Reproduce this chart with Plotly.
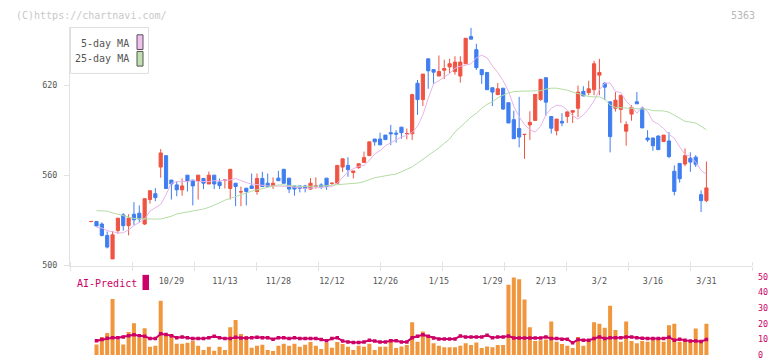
import plotly.graph_objects as go

# ---------------- data ----------------
opens = [529.0, 529.1, 527.4, 519.8, 504.1, 523.0, 533.5, 526.3, 533.9, 534.6,
         527.4, 543.7, 547.6, 565.4, 573.0, 556.7, 553.5, 550.2, 560.0, 556.7,
         556.1, 557.8, 554.1, 560.0, 555.4, 556.6, 551.1, 554.6, 548.8, 551.3,
         552.8, 549.1, 557.8, 554.6, 552.8, 558.0, 563.9, 558.0, 552.8, 552.8,
         552.8, 550.7, 552.7, 553.5, 558.0, 554.5, 554.6, 565.4, 566.5, 561.7,
         565.0, 568.5, 573.0, 584.1, 584.1, 586.7, 588.3, 588.0, 592.0, 587.7,
         587.6, 621.3, 610.4, 637.6, 630.4, 626.1, 630.0, 632.2, 629.0, 626.1,
         634.3, 652.4, 643.7, 630.4, 628.5, 618.3, 613.7, 618.0, 608.3, 597.0,
         591.1, 587.1, 593.5, 596.5, 610.4, 625.0, 599.1, 589.6, 595.9, 599.1,
         602.0, 604.6, 615.9, 615.0, 617.0, 626.7, 621.3, 608.9, 604.6, 603.9,
         589.3, 600.7, 608.9, 604.6, 584.8, 584.8, 586.1, 582.4, 582.8, 562.6,
         567.8, 567.4, 571.3, 572.0, 547.0, 543.0]
highs = [529.1, 529.1, 528.5, 522.4, 522.8, 531.3, 534.6, 533.9, 542.0, 539.8,
         544.3, 549.6, 551.3, 577.4, 573.0, 556.7, 555.7, 557.8, 560.0, 556.7,
         560.0, 557.8, 562.4, 560.0, 557.8, 556.7, 563.9, 554.6, 552.4, 551.3,
         561.1, 561.1, 562.2, 561.1, 558.5, 562.8, 563.9, 558.0, 552.8, 552.8,
         553.5, 558.0, 558.5, 554.6, 558.0, 555.0, 566.5, 570.9, 572.0, 562.8,
         567.6, 575.7, 582.2, 584.1, 588.3, 586.7, 593.5, 590.0, 592.0, 591.1,
         614.3, 623.5, 627.4, 637.6, 630.4, 639.8, 637.0, 637.6, 639.3, 639.3,
         651.3, 658.3, 647.6, 630.4, 628.5, 618.3, 621.5, 618.0, 608.3, 603.0,
         612.2, 587.2, 602.6, 613.9, 623.9, 625.0, 599.1, 597.4, 601.3, 602.2,
         603.0, 619.8, 619.3, 623.0, 636.3, 637.6, 622.0, 608.9, 615.4, 613.3,
         595.9, 606.7, 615.4, 605.7, 590.0, 584.8, 586.5, 586.7, 588.7, 566.5,
         567.8, 577.8, 575.2, 573.3, 549.8, 569.1]
lows = [529.0, 526.1, 519.1, 511.1, 504.1, 520.9, 523.0, 519.8, 526.7, 528.5,
        526.7, 541.0, 542.6, 558.3, 551.1, 543.7, 545.9, 546.3, 549.1, 539.8,
        543.7, 550.7, 554.1, 550.7, 550.7, 551.1, 543.7, 539.3, 539.3, 539.8,
        551.1, 547.0, 552.4, 552.4, 550.8, 556.3, 554.1, 548.0, 546.3, 548.5,
        548.5, 550.2, 551.1, 550.7, 550.2, 553.5, 554.1, 562.2, 558.9, 557.8,
        564.3, 568.5, 573.0, 579.6, 580.2, 583.7, 580.0, 581.7, 584.3, 583.9,
        583.5, 600.2, 606.1, 617.6, 620.9, 626.1, 624.1, 628.0, 627.0, 621.7,
        634.3, 650.7, 630.2, 620.9, 617.0, 606.1, 613.7, 603.5, 594.8, 584.3,
        578.5, 570.9, 583.5, 596.5, 609.6, 599.6, 587.8, 586.5, 592.6, 594.8,
        594.8, 598.7, 612.8, 613.3, 613.3, 613.3, 610.0, 575.2, 602.4, 594.8,
        579.6, 596.3, 607.6, 591.5, 582.2, 576.3, 577.0, 582.4, 571.3, 546.5,
        555.0, 565.9, 562.2, 565.4, 535.4, 542.0]
closes = [529.1, 526.1, 519.8, 512.0, 520.2, 531.3, 526.3, 531.3, 530.2, 530.7,
          544.3, 549.6, 545.0, 574.8, 551.1, 554.1, 550.2, 552.8, 556.1, 552.8,
          560.0, 554.6, 560.0, 554.1, 553.0, 556.7, 563.9, 552.4, 548.9, 549.1,
          551.1, 557.8, 552.4, 552.4, 554.6, 556.3, 554.6, 550.7, 550.7, 551.1,
          551.1, 554.6, 552.8, 552.2, 552.4, 554.6, 566.5, 570.9, 563.7, 562.8,
          567.6, 571.7, 582.2, 582.2, 580.2, 583.7, 587.6, 587.4, 588.3, 587.8,
          613.7, 610.4, 627.4, 629.6, 628.7, 629.1, 631.1, 634.3, 635.4, 635.4,
          651.3, 650.7, 631.7, 627.0, 617.0, 615.4, 617.6, 604.1, 594.8, 584.3,
          585.4, 587.2, 595.2, 613.9, 623.9, 608.7, 591.3, 597.4, 594.8, 602.2,
          603.0, 615.4, 612.8, 617.6, 634.3, 628.5, 618.7, 585.7, 610.0, 613.3,
          593.7, 605.2, 607.6, 591.5, 583.5, 579.6, 577.0, 586.7, 572.4, 549.1,
          557.6, 573.0, 568.7, 567.2, 543.0, 551.5]

ma5 = [None, 525.2, 524.8, 523.0, 522.4, 521.5, 521.5, 523.5, 526.3, 528.5,
       530.7, 536.1, 538.3, 540.4, 547.0, 554.6, 555.7, 555.7, 555.7, 556.7,
       555.7, 555.7, 555.7, 556.3, 556.1, 556.7, 556.7, 557.8, 556.3, 555.0,
       554.1, 553.5, 553.3, 552.8, 552.8, 552.8, 552.8, 552.4, 552.0, 551.3,
       551.1, 551.3, 551.7, 552.0, 552.0, 552.4, 554.6, 558.5, 562.2, 564.3,
       565.9, 566.5, 569.8, 574.1, 576.3, 579.6, 581.7, 583.9, 585.5, 586.5,
       588.5, 592.6, 600.2, 611.1, 620.9, 623.0, 625.7, 627.8, 631.3, 632.6,
       633.3, 634.3, 638.3, 640.0, 638.3, 632.8, 628.5, 623.0, 616.1, 605.7,
       599.1, 593.7, 590.4, 588.7, 592.6, 600.2, 604.6, 606.7, 606.1, 603.5,
       599.6, 597.4, 600.2, 604.2, 609.5, 617.0, 621.3, 621.5, 615.9, 615.0,
       609.3, 605.7, 601.3, 605.7, 602.4, 595.9, 594.1, 591.1, 587.2, 584.6,
       578.9, 573.7, 572.6, 568.7, 563.3, 560.4]
ma25 = [None, 536.3, 536.3, 536.0, 534.8, 533.9, 532.6, 531.7, 531.1, 530.9,
        530.7, 530.7, 530.7, 530.7, 531.5, 532.6, 534.1, 534.8, 535.4, 536.0,
        536.5, 537.4, 538.5, 539.8, 541.5, 543.3, 544.6, 545.9, 547.0, 548.0,
        549.3, 550.2, 551.1, 552.0, 553.0, 553.5, 553.5, 553.0, 552.8, 552.4,
        552.4, 552.4, 552.6, 552.8, 553.0, 553.3, 553.9, 554.1, 554.3, 554.6,
        554.8, 555.7, 557.2, 558.3, 558.9, 559.8, 560.2, 560.7, 562.2, 563.7,
        565.5, 568.0, 570.5, 573.2, 575.2, 578.2, 581.2, 584.1, 588.8, 591.8,
        595.3, 598.7, 601.3, 604.6, 607.2, 608.9, 611.5, 613.3, 614.8, 615.7,
        616.1, 616.1, 616.1, 616.1, 616.3, 617.4, 618.0, 618.0, 617.6, 616.7,
        615.4, 614.3, 613.0, 612.4, 612.2, 612.2, 610.7, 606.7, 605.2, 605.0,
        605.0, 604.8, 604.6, 604.1, 603.9, 603.0, 602.8, 602.8, 602.0, 599.8,
        597.6, 595.9, 595.4, 594.8, 592.6, 590.2]

volume = [None, 6.8, 11.6, 14.1, 35.9, 9.9, 6.8, 14.7, 20.3, 11.1,
          17.2, 5.3, 5.9, 34.7, 13.0, 13.4, 7.2, 7.2, 7.8, 9.1,
          5.9, 3.2, 5.3, 2.8, 5.3, 3.2, 17.8, 22.4, 13.4, 12.0,
          4.7, 5.9, 6.6, 3.2, 2.6, 5.9, 7.2, 5.9, 7.2, 5.3,
          6.6, 8.4, 5.9, 3.9, 7.8, 4.7, 8.4, 7.0, 5.3, 3.2,
          5.9, 5.3, 7.2, 3.2, 5.3, 5.3, 10.3, 4.5, 5.5, 6.5,
          21.0, 8.5, 15.0, 12.5, 7.5, 6.0, 5.0, 5.0, 5.0, 6.0,
          7.5, 6.5, 8.0, 4.5, 5.5, 5.0, 6.5, 6.5, 45.0, 49.5,
          48.5, 35.5, 17.8, 9.0, 9.5, 10.0, 21.5, 8.5, 7.0, 6.0,
          4.5, 11.5, 6.0, 9.0, 21.0, 20.0, 17.5, 31.5, 16.0, 8.5,
          21.5, 9.0, 7.5, 9.0, 8.5, 10.5, 10.5, 8.5, 19.0, 20.0,
          8.5, 9.0, 8.5, 17.0, 8.5, 20.0]
ai_predict = [None, 9.1, 9.9, 10.7, 11.1, 11.1, 11.6, 12.4, 13.0, 12.4,
              12.0, 10.5, 10.5, 13.6, 13.2, 12.4, 11.1, 11.6, 11.1, 10.5,
              10.5, 10.5, 11.1, 12.0, 11.1, 10.5, 10.5, 11.4, 10.9, 10.9,
              11.1, 11.4, 11.1, 11.1, 10.1, 11.1, 11.1, 10.5, 11.1, 10.5,
              10.5, 10.5, 10.5, 9.9, 9.1, 10.5, 11.1, 8.9, 8.4, 8.0,
              8.0, 8.4, 9.5, 8.9, 8.4, 8.4, 9.1, 9.1, 8.4, 8.4,
              11.1, 12.0, 13.0, 12.0, 10.9, 10.3, 10.3, 10.3, 10.3, 12.2,
              11.6, 11.6, 11.6, 11.6, 12.6, 11.1, 11.6, 11.6, 12.2, 10.9,
              10.9, 10.9, 10.9, 10.9, 10.9, 11.6, 10.5, 10.5, 10.1, 10.1,
              7.8, 9.9, 9.5, 9.5, 10.5, 11.6, 10.5, 11.1, 11.1, 11.1,
              11.6, 11.6, 11.1, 10.7, 10.5, 10.5, 10.5, 10.5, 11.4, 9.5,
              10.1, 9.5, 8.9, 8.9, 8.6, 9.9]

date_labels = ["10/29", "11/13", "11/28", "12/12", "12/26", "1/15",
               "1/29", "2/13", "3/2", "3/16", "3/31"]
date_label_bar = [15, 25, 35, 45, 55, 65, 75, 85, 95, 105, 115]
price_ticks = [500, 560, 620]
vol_ticks = [0, 10, 20, 30, 40, 50]

# ---------------- styling / layout ----------------
W, H = 772, 361
RED, BLUE = "#ef5442", "#3f7ef0"
CRIMSON = "#cc0066"
FONT = "DejaVu Sans Mono"
bars = list(range(len(closes)))

X_LEFT, X_RIGHT = 70, 752
XR = [-3.953, 123.52]
grid_ticks = [XR[0] + k * (XR[1] - XR[0]) / 11 for k in range(12)]


def px(x):
    return x / W


def py(y):
    return 1 - y / H


fig = go.Figure()
fig.add_trace(go.Candlestick(
    x=bars, open=opens, high=highs, low=lows, close=closes,
    increasing=dict(line=dict(color=RED, width=1), fillcolor=RED),
    decreasing=dict(line=dict(color=BLUE, width=1), fillcolor=BLUE),
    whiskerwidth=0, xaxis="x", yaxis="y", hoverinfo="skip"))
fig.add_trace(go.Scatter(x=bars, y=ma5, mode="lines",
                         line=dict(color="#e6b4ea", width=1), xaxis="x", yaxis="y"))
fig.add_trace(go.Scatter(x=bars, y=ma25, mode="lines",
                         line=dict(color="#b4dca4", width=1), xaxis="x", yaxis="y"))
fig.add_trace(go.Bar(x=bars, y=volume, width=0.75, marker=dict(color="#f0963c", line=dict(width=0)),
                     xaxis="x2", yaxis="y2"))
fig.add_trace(go.Scatter(x=bars, y=ai_predict, mode="lines+markers",
                         line=dict(color=CRIMSON, width=2),
                         marker=dict(symbol="square", size=3.5, color=CRIMSON),
                         xaxis="x2", yaxis="y2"))

axis_gray = "#e2e2e2"
fig.update_layout(
    width=W, height=H, margin=dict(l=0, r=0, t=0, b=0),
    paper_bgcolor="white", plot_bgcolor="white", showlegend=False,
    boxgap=0.15,
    font=dict(family=FONT),
    xaxis=dict(domain=[px(X_LEFT), px(X_RIGHT)], range=XR, anchor="y",
               rangeslider=dict(visible=False),
               showline=True, linecolor=axis_gray, linewidth=1,
               tickmode="array", tickvals=date_label_bar, ticktext=date_labels,
               ticks="outside", ticklen=0, ticklabelstandoff=7,
               tickfont=dict(family=FONT, size=8.4, color="#555555"),
               minor=dict(tickmode="array", tickvals=grid_ticks, ticks="outside",
                          ticklen=4, tickcolor=axis_gray, tickwidth=1, showgrid=False),
               showgrid=False, zeroline=False),
    xaxis2=dict(domain=[px(X_LEFT), px(X_RIGHT)], range=XR, anchor="free",
                position=py(268), side="top", matches="x",
                tickmode="array", tickvals=grid_ticks, ticks="outside", ticklen=4,
                tickcolor=axis_gray, showticklabels=False,
                showline=False, showgrid=False, zeroline=False),
    yaxis=dict(domain=[py(268), py(24)], range=[499.35, 658.5], anchor="x",
               showline=True, linecolor=axis_gray, linewidth=1,
               tickmode="array", tickvals=price_ticks, ticks="outside", ticklen=5,
               tickcolor=axis_gray, ticklabelstandoff=5,
               tickfont=dict(family=FONT, size=8.4, color="#555555"),
               showgrid=False, zeroline=False),
    yaxis2=dict(domain=[py(359), py(278)], range=[0, 50.625], anchor="x2", side="right",
                tickmode="array", tickvals=vol_ticks, ticks="", ticklabelstandoff=5,
                tickfont=dict(family=FONT, size=8.4, color=CRIMSON),
                showline=False, showgrid=False, zeroline=False),
)

# legend box and texts (drawn as shapes/annotations to match the original look)
shapes = [
    dict(type="rect", xref="paper", yref="paper", x0=px(70.5), x1=px(148.5), y0=py(71), y1=py(24),
         line=dict(color="#dddddd", width=1), fillcolor="white", layer="above"),
    dict(type="rect", xref="paper", yref="paper", x0=px(137), x1=px(143), y0=py(46.5), y1=py(31.5),
         line=dict(color="#555555", width=1), fillcolor="#f0c0f0", layer="above"),
    dict(type="rect", xref="paper", yref="paper", x0=px(137), x1=px(143), y0=py(63.5), y1=py(48.5),
         line=dict(color="#555555", width=1), fillcolor="#c0e0b0", layer="above"),
    dict(type="rect", xref="paper", yref="paper", x0=px(142.5), x1=px(149), y0=py(292.5), y1=py(277),
         line=dict(width=0), fillcolor=CRIMSON, layer="above"),
]
annotations = [
    dict(text="(C)https://chartnavi.com/", x=px(14), y=py(12), xanchor="left", yanchor="middle",
         font=dict(family=FONT, size=10, color="#c8c8c8")),
    dict(text="5363", x=px(757), y=py(12), xanchor="right", yanchor="middle",
         font=dict(family=FONT, size=10, color="#b8b8b8")),
    dict(text="5-day MA", x=px(131), y=py(40), xanchor="right", yanchor="middle",
         font=dict(family=FONT, size=10, color="#555555")),
    dict(text="25-day MA", x=px(131), y=py(56), xanchor="right", yanchor="middle",
         font=dict(family=FONT, size=10, color="#555555")),
    dict(text="AI-Predict", x=px(75), y=py(286), xanchor="left", yanchor="middle",
         font=dict(family=FONT, size=10, color=CRIMSON)),
]
for a in annotations:
    a.update(xref="paper", yref="paper", showarrow=False)
fig.update_layout(shapes=shapes, annotations=annotations)

fig.write_html("out.html",
               config={"displayModeBar": False, "staticPlot": True},
               post_script="document.body.style.margin='0';document.body.style.padding='0';"
                           "document.body.style.overflow='hidden';")
